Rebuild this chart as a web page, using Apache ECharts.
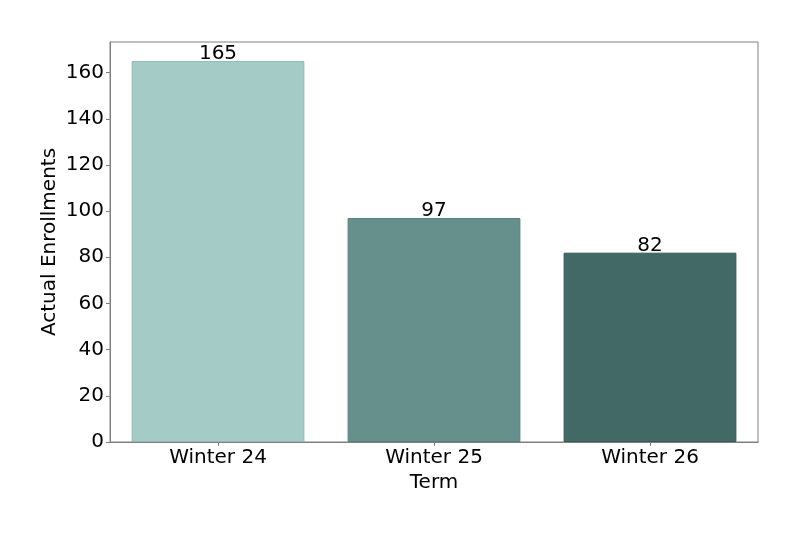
<!DOCTYPE html>
<html><head><meta charset="utf-8">
<script src="https://cdn.jsdelivr.net/npm/echarts@6/dist/echarts.min.js"></script>
<style>html,body{margin:0;padding:0;background:#fff}#c{width:800px;height:533px}</style>
</head><body><div id="c"></div>
<script>
const categories = ["Winter 24", "Winter 25", "Winter 26"];
const enrollments = [165, 97, 82];
const barColors = ["#a5cbc7", "#66908b", "#426965"];
const edgeColors = ["#93bab6", "#5a807b", "#385a56"];
const yTicks = [0, 20, 40, 60, 80, 100, 120, 140, 160];

const font = "DejaVu Sans";
const chart = echarts.init(document.getElementById('c'), null, {renderer: 'canvas'});
chart.setOption({
  animation: false,
  backgroundColor: '#fff',
  grid: {left: 110, right: 42, top: 42, bottom: 91, show: true, borderColor: '#808080', borderWidth: 1, backgroundColor: 'transparent'},
  xAxis: {
    type: 'category', data: categories,
    name: 'Term', nameLocation: 'middle', nameGap: 30,
    nameTextStyle: {fontFamily: font, fontSize: 20, color: '#000'},
    axisLine: {lineStyle: {color: '#808080'}},
    axisTick: {show: true, alignWithLabel: true, length: 4, lineStyle: {color: '#808080'}},
    axisLabel: {fontFamily: font, fontSize: 20, color: '#000', margin: 6},
    splitLine: {show: false}
  },
  yAxis: {
    type: 'value', min: 0, max: 173.25, interval: 20,
    name: 'Actual Enrollments', nameLocation: 'middle', nameGap: 50, nameRotate: 90,
    nameMoveOverlap: false,
    nameTextStyle: {fontFamily: font, fontSize: 20, color: '#000'},
    axisLine: {show: true, lineStyle: {color: '#808080'}},
    axisTick: {show: true, length: 4, lineStyle: {color: '#808080'}},
    axisLabel: {fontFamily: font, fontSize: 20, color: '#000', margin: 6, showMaxLabel: false,
      formatter: v => (yTicks.indexOf(v) >= 0 ? String(v) : '')},
    splitLine: {show: false}
  },
  series: [{
    type: 'bar', barWidth: '80%',
    data: enrollments.map((v, i) => ({value: v, itemStyle: {color: barColors[i], borderColor: edgeColors[i], borderWidth: 1}})),
    label: {show: true, position: 'top', distance: -3, fontFamily: font, fontSize: 20, color: '#000'}
  }]
});
</script></body></html>
